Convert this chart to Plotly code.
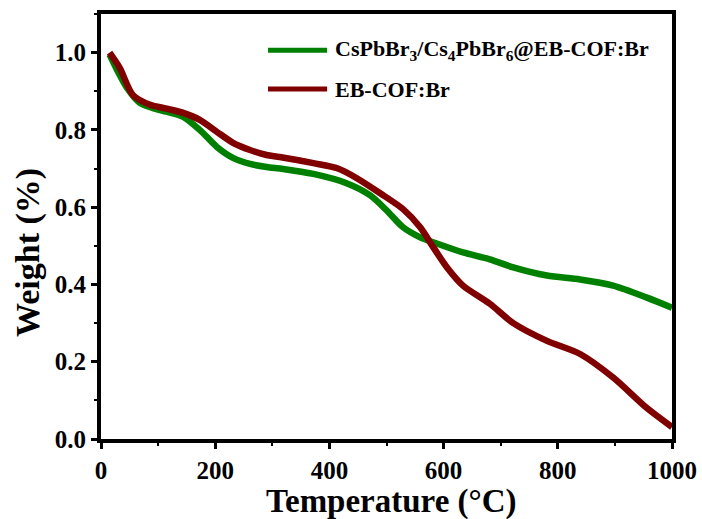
import plotly.graph_objects as go

# Composite: CsPbBr3/Cs4PbBr6@EB-COF:Br
temp_comp = [15, 30, 45, 68, 90, 115, 144, 173, 203, 232, 261, 290, 319, 372, 430, 471, 500, 529, 559, 588, 634, 681, 722, 781, 839, 897, 956, 1000]
weight_comp = [0.995, 0.95, 0.91, 0.87, 0.857, 0.847, 0.834, 0.80, 0.756, 0.727, 0.712, 0.704, 0.699, 0.686, 0.662, 0.631, 0.592, 0.548, 0.522, 0.506, 0.483, 0.465, 0.444, 0.423, 0.413, 0.397, 0.366, 0.34]

# EB-COF:Br
temp_cof = [15, 33, 56, 86, 115, 144, 173, 203, 232, 261, 290, 313, 372, 415, 448, 489, 529, 559, 582, 606, 634, 681, 722, 781, 839, 897, 956, 1000]
weight_cof = [1.0, 0.96, 0.89, 0.865, 0.855, 0.844, 0.826, 0.795, 0.766, 0.748, 0.735, 0.73, 0.714, 0.70, 0.675, 0.636, 0.595, 0.548, 0.496, 0.444, 0.397, 0.35, 0.30, 0.254, 0.22, 0.159, 0.08, 0.031]

names = ["CsPbBr<sub>3</sub>/Cs<sub>4</sub>PbBr<sub>6</sub>@EB-COF:Br", "EB-COF:Br"]
colors = ["#008000", "#800000"]

x_ticks = [0, 200, 400, 600, 800, 1000]
y_ticks = [0.0, 0.2, 0.4, 0.6, 0.8, 1.0]
x_title = "Temperature (°C)"
y_title = "Weight (%)"

FONT = "Liberation Serif"

fig = go.Figure()
fig.add_trace(go.Scatter(x=temp_comp, y=weight_comp, mode="lines", name=names[0],
                         line=dict(color=colors[0], width=6.5, shape="spline", smoothing=0.8)))
fig.add_trace(go.Scatter(x=temp_cof, y=weight_cof, mode="lines", name=names[1],
                         line=dict(color=colors[1], width=6.5, shape="spline", smoothing=0.8)))

# custom legend
leg_y = [0.915, 0.8235]
for i in range(2):
    fig.add_shape(type="line", xref="paper", yref="paper", x0=0.2925, x1=0.396,
                  y0=leg_y[i], y1=leg_y[i], line=dict(color=colors[i], width=5))
    fig.add_annotation(xref="paper", yref="paper", x=0.406, y=leg_y[i], text="<b>" + names[i] + "</b>",
                       showarrow=False, xanchor="left", yanchor="middle",
                       font=dict(family=FONT, size=22, color="black"))

# axis titles
fig.add_annotation(xref="paper", yref="paper", x=0.508, y=-0.146, text="<b>" + x_title + "</b>",
                   showarrow=False, xanchor="center", yanchor="middle",
                   font=dict(family=FONT, size=33, color="black"))
fig.add_annotation(xref="paper", yref="paper", x=-0.128, y=0.44, text="<b>" + y_title + "</b>",
                   showarrow=False, xanchor="center", yanchor="middle", textangle=-90,
                   font=dict(family=FONT, size=34, color="black"))

fig.update_layout(
    width=702, height=519,
    margin=dict(l=101, r=30, t=14, b=80),
    paper_bgcolor="white", plot_bgcolor="white",
    showlegend=False,
    font=dict(family=FONT, color="black"),
)
fig.update_xaxes(
    range=[0, 1000], tickvals=x_ticks, ticktext=["<b>%d</b>" % v for v in x_ticks],
    tickfont=dict(family=FONT, size=25, color="black"),
    showline=True, linewidth=4, linecolor="black", mirror=True,
    ticks="outside", ticklen=6, tickwidth=3, tickcolor="black",
    minor=dict(ticks="outside", ticklen=3, tickwidth=2, dtick=100, tick0=0, tickcolor="black"),
    showgrid=False, zeroline=False, automargin=False,
)
fig.update_yaxes(
    range=[0, 1.1], tickvals=y_ticks, ticktext=["<b>%.1f</b>" % v for v in y_ticks],
    tickfont=dict(family=FONT, size=25, color="black"),
    showline=True, linewidth=4, linecolor="black", mirror=True,
    ticks="outside", ticklen=6, tickwidth=3, tickcolor="black",
    minor=dict(ticks="outside", ticklen=3, tickwidth=2, dtick=0.1, tick0=0, tickcolor="black"),
    showgrid=False, zeroline=False, automargin=False,
)

fig.write_html("out.html")
